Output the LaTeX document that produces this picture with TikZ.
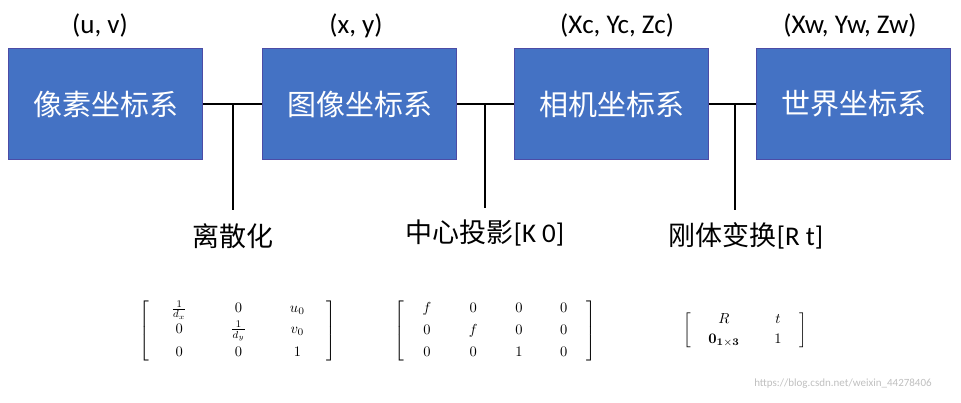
\documentclass[tikz,border=0pt]{standalone}
\usepackage{amsmath}
\usepackage[no-math]{fontspec}
\setmainfont{Carlito}
\newfontfamily\cjk{Noto Sans CJK SC}
\newfontfamily\latf{Carlito}
\begin{document}
\begin{tikzpicture}[x=1pt,y=-1pt,
  bx/.style={draw=black!50!blue!70,line width=1pt,fill={rgb,255:red,68;green,114;blue,196},minimum width=194pt,minimum height=111pt,text=white,font=\fontsize{29}{34}\selectfont\cjk,inner sep=0},
  ln/.style={line width=2.5pt,black},
  lab/.style={font=\fontsize{27}{32}\selectfont,inner sep=0},
  clab/.style={font=\fontsize{27}{32}\selectfont\cjk,inner sep=0},
  mx/.style={inner sep=0,scale=1.45,transform shape}]
\useasboundingbox (0,0) rectangle (961,403);
\node[bx] (b1) at (105.5,104) {像素坐标系};
\node[bx] (b2) at (359.5,104) {图像坐标系};
\node[bx] (b3) at (611.5,104) {相机坐标系};
\node[bx] (b4) at (853.5,104) {世界坐标系};
\node[lab] (t1) at (100,26) {(u, v)};
\node[lab] (t2) at (356,26) {(x, y)};
\node[lab] (t3) at (617,26) {(Xc, Yc, Zc)};
\node[lab] (t4) at (850,26) {(Xw, Yw, Zw)};
\draw[ln] (b1.east) -- (b2.west);
\draw[ln] (b2.east) -- (b3.west);
\draw[ln] (b3.east) -- (b4.west);
\coordinate (j1) at (233,104); \coordinate (e1) at (233,210);
\coordinate (j2) at (485,104); \coordinate (e2) at (485,208);
\coordinate (j3) at (735,104); \coordinate (e3) at (735,210);
\draw[ln] (j1) -- (e1); \draw[ln] (j2) -- (e2); \draw[ln] (j3) -- (e3);
\node[clab] (l1) at (233,236) {离散化};
\node[clab] (l2) at (485,233) {中心投影{\latf [K 0]}};
\node[clab] (l3) at (746,236) {刚体变换{\latf [R t]}};
\node[mx] (m1) at (238,331) {\setlength{\arraycolsep}{15pt}$\left[\begin{array}{ccc}\frac{1}{d_x}&0&u_0\\[2pt]0&\frac{1}{d_y}&v_0\\[4pt]0&0&1\end{array}\right]$};
\node[mx] (m2) at (495,331) {\setlength{\arraycolsep}{13pt}$\left[\begin{array}{cccc}f&0&0&0\\[3pt]0&f&0&0\\[3pt]0&0&1&0\end{array}\right]$};
\node[mx] (m3) at (745,330) {\setlength{\arraycolsep}{12pt}$\left[\begin{array}{cc}R&t\\[2pt]\mathbf{0}_{\mathbf{1\times3}}&1\end{array}\right]$};
\node[text=black!25,font=\fontsize{11}{13}\selectfont,inner sep=0] (w) at (843,384) {https://blog.csdn.net/weixin\_44278406};
\end{tikzpicture}
\end{document}
